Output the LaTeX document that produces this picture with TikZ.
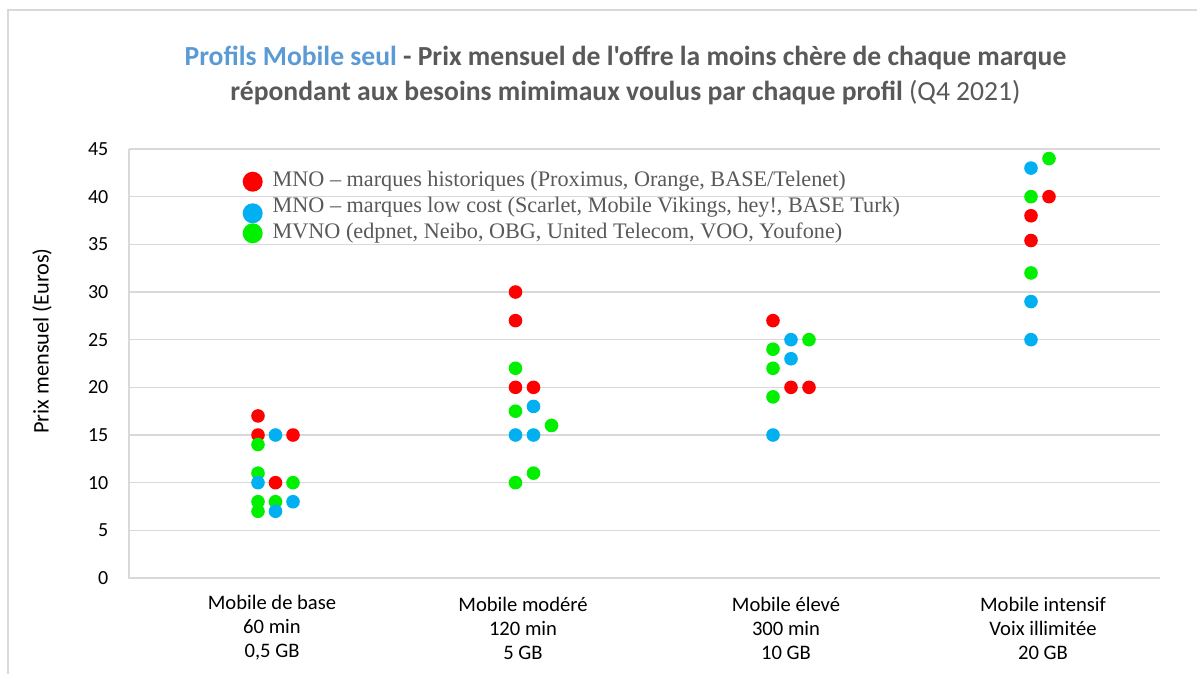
\documentclass[tikz,border=0pt]{standalone}
\usepackage{fontspec}
\setmainfont{Carlito}
\newfontfamily\titlefont{Carlito}
\newfontfamily\legfont{Liberation Serif}
\definecolor{gridc}{HTML}{D9D9D9}
\definecolor{titleblue}{HTML}{5B9BD5}
\definecolor{titlegray}{HTML}{595959}
\definecolor{legred}{HTML}{FF0000}
\definecolor{legblue}{HTML}{00B0F0}
\definecolor{leggreen}{HTML}{00F000}
\tikzset{
  gridline/.style={draw=gridc, line width=1.3pt},
  pt/.style={circle, inner sep=0pt, minimum size=13.6pt, draw=none},
  ptR/.style={pt, fill=legred},
  ptG/.style={pt, fill=leggreen},
  ptB/.style={pt, fill=legblue},
  legdot/.style={circle, inner sep=0pt, minimum size=20pt, draw=none},
  ticklbl/.style={inner sep=0pt, anchor=east, font=\fontsize{20}{24}\selectfont, text=black},
  catlbl/.style={inner sep=0pt, align=center, font=\fontsize{20.6}{24}\selectfont, text=black},
  legtxt/.style={inner sep=0pt, anchor=west, font=\legfont\fontsize{22.2}{26}\selectfont, text=titlegray},
  titletxt/.style={inner sep=0pt, font=\titlefont\fontsize{27.6}{32}\selectfont\bfseries, text=titlegray}
}
\begin{document}
\begin{tikzpicture}[x=1pt,y=-1pt]
\useasboundingbox (0,0) rectangle (1197,673);
\fill[white] (0,0) rectangle (1197,673);
% outer frame
\draw[draw=gridc, line width=1.3pt] (8,690) -- (8,10) -- (1210,10);
% title
\node[titletxt] (t1) at (625.5,58) {\textcolor{titleblue}{Profils Mobile seul} - Prix mensuel de l'offre la moins chère de chaque marque};
\node[titletxt] (t2) at (625.5,93) {répondant aux besoins mimimaux voulus par chaque profil {\mdseries (Q4 2021)}};
% grid
\foreach \v in {5,10,...,45} {
  \draw[gridline] (129,{578-9.533*\v}) -- (1160,{578-9.533*\v});
}
\draw[gridline] (129,149) -- (129,578) -- (1160,578);
% tick labels
\foreach \v in {0,5,...,45} {
  \node[ticklbl] (tk\v) at (108.5,{578-9.533*\v}) {\v};
}
% y axis title
\node[inner sep=0pt, rotate=90, font=\fontsize{22.3}{26}\selectfont, text=black] (ytitle) at (42,341) {Prix mensuel (Euros)};
% category labels
\node[catlbl] (c1) at (272,628) {Mobile de base\\60 min\\0,5 GB};
\node[catlbl] (c2) at (523,628) {Mobile modéré\\120 min\\5 GB};
\node[catlbl] (c3) at (786,628) {Mobile élevé\\300 min\\10 GB};
\node[catlbl] (c4) at (1043,628) {Mobile intensif\\Voix illimitée\\20 GB};
% red points
\foreach \x/\v [count=\i] in {258/17,258/15,293/15,275.5/10,515.5/30,515.5/27,515.5/20,533.5/20,773/27,791/20,809/20,1049/40,1031/38,1031/35.4} {
  \node[ptR] (r\i) at (\x,{578-9.533*\v}) {};
}
% green points
\foreach \x/\v [count=\i] in {258/14,258/11,293/10,258/8,275.5/8,258/7,515.5/22,515.5/17.5,551.5/16,533.5/11,515.5/10,809/25,773/24,773/22,773/19,1049/44,1031/40,1031/32} {
  \node[ptG] (g\i) at (\x,{578-9.533*\v}) {};
}
% blue points
\foreach \x/\v [count=\i] in {275.5/15,258/10,293/8,275.5/7,533.5/18,515.5/15,533.5/15,791/25,791/23,773/15,1031/43,1031/29,1031/25} {
  \node[ptB] (b\i) at (\x,{578-9.533*\v}) {};
}
% legend
\node[legdot, fill=legred] (lr) at (252.7,181.7) {};
\node[legdot, fill=legblue] (lb) at (252.7,213.3) {};
\node[legdot, fill=leggreen] (lg) at (252.7,233.3) {};
\node[legtxt] (lt1) at (272.5,181) {MNO – marques historiques (Proximus, Orange, BASE/Telenet)};
\node[legtxt] (lt2) at (272.5,207) {MNO – marques low cost (Scarlet, Mobile Vikings, hey!, BASE Turk)};
\node[legtxt] (lt3) at (272.5,233) {MVNO (edpnet, Neibo, OBG, United Telecom, VOO, Youfone)};
\end{tikzpicture}
\end{document}
